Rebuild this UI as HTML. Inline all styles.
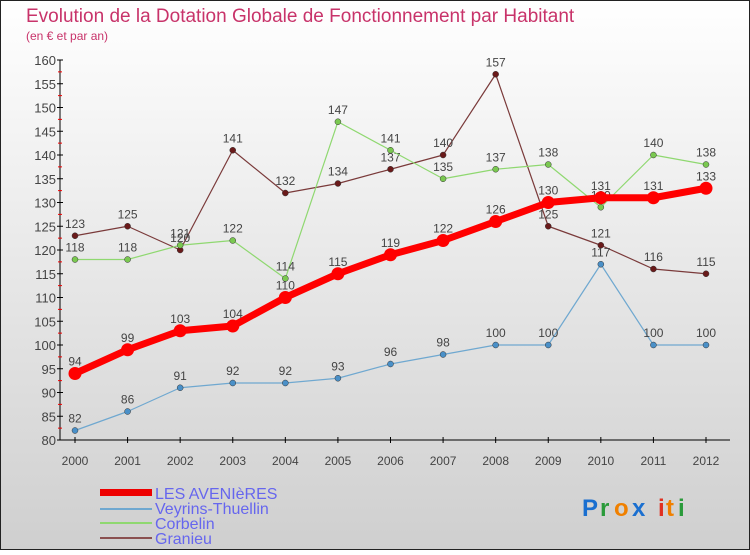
<!DOCTYPE html>
<html><head><meta charset="utf-8"><style>
body{margin:0;width:750px;height:550px;overflow:hidden;font-family:"Liberation Sans",sans-serif;}
</style></head><body>
<svg id="c" width="750" height="550" xmlns="http://www.w3.org/2000/svg">
<defs><linearGradient id="bg" x1="0" y1="0" x2="0" y2="1"><stop offset="0" stop-color="#ffffff"/><stop offset="1" stop-color="#cfcfcf"/></linearGradient></defs>
<rect x="0.5" y="0.5" width="749" height="549" fill="url(#bg)" stroke="#222"/>
<text x="26" y="22" font-size="19" fill="#c8336a">Evolution de la Dotation Globale de Fonctionnement par Habitant</text>
<text x="26" y="40" font-size="12" fill="#c8336a">(en € et par an)</text>
<g id="axes"></g><g id="series"></g>
<g>
<rect x="100" y="489" width="52" height="7" fill="#e00"/>
<rect x="100" y="508" width="52" height="2" fill="#6fa8d0"/>
<rect x="100" y="522" width="52" height="2" fill="#8fd870"/>
<rect x="100" y="537" width="52" height="2" fill="#8a5050"/>
<g font-size="16" fill="#6666ee">
<text x="155" y="499">LES AVENIèRES</text>
<text x="155" y="514">Veyrins-Thuellin</text>
<text x="155" y="529">Corbelin</text>
<text x="155" y="544">Granieu</text>
</g></g>
<g font-size="24" font-weight="bold">
<text x="582" y="516" fill="#1a6fd0">P</text><text x="600" y="516" fill="#2a9a3a">r</text><text x="614" y="516" fill="#f08000">o</text><text x="632" y="516" fill="#1a6fd0">x</text><text x="658" y="516" fill="#e03020">i</text><text x="666" y="516" fill="#f08000">t</text><text x="678" y="516" fill="#2a9a3a">i</text>
</g>
</svg>
<script>
const years=[2000,2001,2002,2003,2004,2005,2006,2007,2008,2009,2010,2011,2012];
const yTicks=[80,85,90,95,100,105,110,115,120,125,130,135,140,145,150,155,160];
const lesAvenieres=[94,99,103,104,110,115,119,122,126,130,131,131,133];
const veyrins=[82,86,91,92,92,93,96,98,100,100,117,100,100];
const corbelin=[118,118,121,122,114,147,141,135,137,138,129,140,138];
const granieu=[123,125,120,141,132,134,137,140,157,125,121,116,115];
const NS='http://www.w3.org/2000/svg';
const X=i=>75+i*(706-75)/12;
const Y=v=>440-(v-80)*(380/80);
function mk(t,a,p){const e=document.createElementNS(NS,t);for(const k in a)e.setAttribute(k,a[k]);p.appendChild(e);return e;}
const ax=document.getElementById('axes');
let l=mk('line',{x1:60,y1:60,x2:60,y2:440,stroke:'#000'},ax);

l=mk('line',{x1:60,y1:440,x2:730,y2:440,stroke:'#000'},ax);

yTicks.forEach(v=>{const y=Y(v);
 mk('line',{x1:57,y1:y,x2:63,y2:y,stroke:'#000'},ax);
 if(v<160)mk('line',{x1:58,y1:Y(v+2.5),x2:62,y2:Y(v+2.5),stroke:'#e00'},ax);
 const t=mk('text',{x:56,y:y+5,'text-anchor':'end','font-size':13,fill:'#444'},ax);t.textContent=v;
 });
years.forEach((yr,i)=>{const x=X(i);
 mk('line',{x1:x,y1:437,x2:x,y2:443,stroke:'#000'},ax);
 const t=mk('text',{x:x,y:465,'text-anchor':'middle','font-size':12,fill:'#444'},ax);t.textContent=yr;
 });
const sg=document.getElementById('series');
function draw(d,name,col,w,r,dot){
 const g=mk('g',{},sg);
 mk('polyline',{points:d.map((v,i)=>X(i)+','+Y(v)).join(' '),fill:'none',stroke:col,'stroke-width':w,'stroke-linejoin':'round'},g);
 d.forEach((v,i)=>{const c=mk('circle',{cx:X(i),cy:Y(v),r:r,fill:dot,stroke:'#333','stroke-width':r>4?0:0.5},g);
  
  const t=mk('text',{x:X(i),y:Y(v)-8,'text-anchor':'middle','font-size':12,fill:'#444'},g);t.textContent=v;
  });
}
draw(granieu,'granieu','#7a3a3a',1.2,3,'#6a1a1a');
draw(corbelin,'corbelin','#8fd870',1.2,3,'#7ac850');
draw(veyrins,'veyrins','#6fa8d0',1.2,3,'#4a90c8');
draw(lesAvenieres,'les-avenieres','#f00',7,6.5,'#f00');
</script>
</body></html>
